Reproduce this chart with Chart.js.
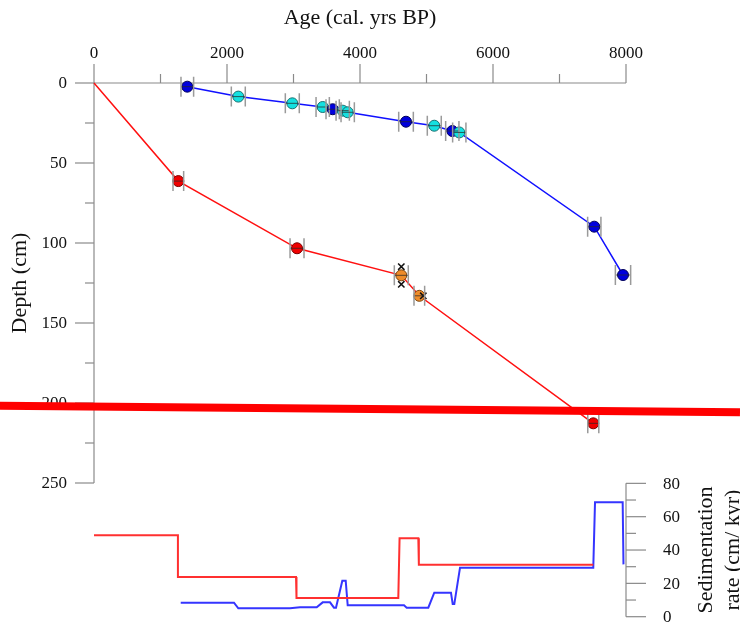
<!DOCTYPE html>
<html><head><meta charset="utf-8">
<script src="https://cdn.jsdelivr.net/npm/chart.js@4.4.0/dist/chart.umd.min.js"></script>
<style>html,body{margin:0;padding:0;background:#fff;}canvas{display:block;}</style>
</head><body>
<canvas id="c" width="740" height="629"></canvas>
<script>
// ---------- DATA ----------
// Core 1 (blue / cyan dated levels)
const blueAges   = [1403, 2170, 2982, 3439, 3589, 3740, 3815, 4692, 5117, 5388, 5493, 7523, 7955];
const blueDepths = [2.3, 8.5, 12.7, 15.0, 16.4, 17.3, 18.3, 24.2, 26.7, 30.0, 30.9, 89.8, 120.0];
const blueKinds  = ['dark','cyan','cyan','cyan','dark','cyan','cyan','dark','cyan','dark','cyan','dark','dark'];
const blueErrs   = [95, 105, 105, 100, 100, 100, 100, 110, 105, 100, 100, 100, 115];
// Core 2 (red / orange dated levels), first entry is the surface
const redAges   = [0, 1268, 3053, 4621, 4892, 7508];
const redDepths = [0, 61.3, 103.3, 120.2, 133.0, 212.7];
const redKinds  = ['none','red','red','orange','orange','red'];
const redErrs   = [0, 80, 105, 105, 80, 83];
// rejected dates (crosses)
const rejAges   = [4621, 4621, 4952];
const rejDepths = [114.8, 125.8, 133.0];
// Sedimentation rate (cm/kyr)
const redRateAges  = [0, 1262, 1262, 3038, 3045, 4576, 4595, 4877, 4885, 7508];
const redRates     = [48.8, 48.8, 23.8, 23.8, 11.2, 11.2, 47.0, 47.0, 31.2, 31.2];
const blueRateAges = [1304, 2105, 2170, 2947, 3098, 3349, 3439, 3549, 3609, 3639, 3734, 3785, 3815, 4662, 4702, 5027, 5117, 5368, 5394, 5418, 5504, 7508, 7534, 7950, 7962];
const blueRates    = [8.4, 8.4, 5.0, 5.0, 5.6, 5.6, 8.6, 8.6, 5.4, 5.4, 21.6, 21.6, 6.8, 6.8, 5.4, 5.4, 14.4, 14.4, 7.6, 7.6, 29.4, 29.4, 68.6, 68.6, 31.4];
// Thick red marker line (age, depth at both ends)
const markAges   = [-1414, 9714];
const markDepths = [201.75, 205.8];
// Axis ticks
const ageMajorTicks   = [0, 2000, 4000, 6000, 8000];
const ageMinorTicks   = [1000, 3000, 5000, 7000];
const depthMajorTicks = [0, 50, 100, 150, 200, 250];
const depthMinorTicks = [25, 75, 125, 175, 225];
const rateMajorTicks  = [0, 20, 40, 60, 80];
const rateMinorTicks  = [10, 30, 50, 70];
const ageTitle = 'Age (cal. yrs BP)';
const depthTitle = 'Depth (cm)';
const rateTitle = ['Sedimentation', 'rate (cm/ kyr)'];

// ---------- CHART ----------
const FONT = '"Liberation Serif", "Times New Roman", serif';
const AXIS = '#8a8a8a';
const kindFill = {dark:'#0000dd', cyan:'#14e0e0', red:'#f00000', orange:'#ee8c2a'};
const kindEdge = {dark:'#00005a', cyan:'#1a6f6f', red:'#7a0000', orange:'#7a4510'};

function pts(xs, ys){ return xs.map((v,i)=>({x:v, y:ys[i]})); }
function markerSet(xs, ys, kinds){
  const idx = kinds.map((k,i)=>i).filter(i=>kinds[i]!=='none');
  return {
    type:'scatter', data: idx.map(i=>({x:xs[i], y:ys[i]})), yAxisID:'y',
    pointRadius:5.5, pointBorderWidth:1,
    pointBackgroundColor: idx.map(i=>kindFill[kinds[i]]),
    pointBorderColor: idx.map(i=>kindEdge[kinds[i]]),
    showLine:false, order:1, clip:false
  };
}

const axesPlugin = {
  id:'axesDraw',
  beforeDatasetsDraw(chart){
    const {ctx, scales:{x, y, y2}} = chart;
    ctx.save();
    ctx.strokeStyle = AXIS; ctx.lineWidth = 1.2;
    const ln = (a,b,c,d)=>{ctx.beginPath();ctx.moveTo(a,b);ctx.lineTo(c,d);ctx.stroke();};
    const y0 = y.getPixelForValue(0);
    const xl = x.getPixelForValue(0);
    ln(x.getPixelForValue(0), y0, x.getPixelForValue(8000), y0);
    ctx.fillStyle = '#111';
    ctx.font = '17px ' + FONT;
    ctx.textAlign = 'center'; ctx.textBaseline = 'alphabetic';
    ageMajorTicks.forEach(v=>{const p=x.getPixelForValue(v); ln(p,y0,p,y0-19); ctx.fillText(String(v), p, y0-25);});
    ageMinorTicks.forEach(v=>{const p=x.getPixelForValue(v); ln(p,y0,p,y0-9);});
    // depth axis
    ln(xl, y.getPixelForValue(0), xl, y.getPixelForValue(250));
    ctx.textAlign = 'right'; ctx.textBaseline = 'middle';
    depthMajorTicks.forEach(v=>{const p=y.getPixelForValue(v); ln(xl-19,p,xl,p); ctx.fillText(String(v), xl-27, p+1);});
    depthMinorTicks.forEach(v=>{const p=y.getPixelForValue(v); ln(xl-9,p,xl,p);});
    // rate axis
    const xr = x.getPixelForValue(8000);
    ln(xr, y2.getPixelForValue(0), xr, y2.getPixelForValue(80));
    ctx.textAlign = 'left';
    rateMajorTicks.forEach(v=>{const p=y2.getPixelForValue(v); ln(xr,p,xr+20,p); ctx.fillText(String(v), xr+37, p+1);});
    rateMinorTicks.forEach(v=>{const p=y2.getPixelForValue(v); ln(xr,p,xr+10,p);});
    // titles
    ctx.font = '22px ' + FONT; ctx.fillStyle = '#111';
    ctx.textAlign = 'center'; ctx.textBaseline = 'middle';
    ctx.fillText(ageTitle, (x.getPixelForValue(0)+x.getPixelForValue(8000))/2, 18);
    ctx.save(); ctx.translate(20, (y.getPixelForValue(0)+y.getPixelForValue(250))/2); ctx.rotate(-Math.PI/2);
    ctx.fillText(depthTitle, 0, 0); ctx.restore();
    const ym = (y2.getPixelForValue(0)+y2.getPixelForValue(80))/2;
    ctx.save(); ctx.translate(706, ym); ctx.rotate(-Math.PI/2); ctx.fillText(rateTitle[0], 0, 0); ctx.restore();
    ctx.save(); ctx.translate(733, ym); ctx.rotate(-Math.PI/2); ctx.fillText(rateTitle[1], 0, 0); ctx.restore();
    ctx.restore();
  },
  afterDatasetsDraw(chart){
    const {ctx, scales:{x, y}} = chart;
    ctx.save();
    const draw = (ages, depths, errs)=>{
      ages.forEach((a,i)=>{
        if(!errs[i]) return;
        const l = x.getPixelForValue(a-errs[i]), r = x.getPixelForValue(a+errs[i]), py = y.getPixelForValue(depths[i]);
        ctx.strokeStyle = 'rgba(40,40,40,0.75)'; ctx.lineWidth = 1;
        ctx.beginPath(); ctx.moveTo(l,py); ctx.lineTo(r,py); ctx.stroke();
        ctx.strokeStyle = '#9a9a9a'; ctx.lineWidth = 1.5;
        ctx.beginPath(); ctx.moveTo(l,py-10); ctx.lineTo(l,py+10); ctx.moveTo(r,py-10); ctx.lineTo(r,py+10); ctx.stroke();
      });
    };
    draw(blueAges, blueDepths, blueErrs);
    draw(redAges, redDepths, redErrs);
    ctx.restore();
  },
  afterDraw(chart){
    const {ctx, scales:{x, y}} = chart;
    ctx.save();
    ctx.strokeStyle = '#ff0000'; ctx.lineWidth = 8;
    ctx.beginPath();
    ctx.moveTo(x.getPixelForValue(markAges[0]), y.getPixelForValue(markDepths[0]));
    ctx.lineTo(x.getPixelForValue(markAges[1]), y.getPixelForValue(markDepths[1]));
    ctx.stroke();
    ctx.restore();
  }
};

new Chart(document.getElementById('c'), {
  type:'scatter',
  data:{datasets:[
    markerSet(blueAges, blueDepths, blueKinds),
    markerSet(redAges, redDepths, redKinds),
    {type:'scatter', data:pts(rejAges, rejDepths), yAxisID:'y', pointStyle:'crossRot', pointRadius:4.5,
     borderColor:'#111', pointBorderColor:'#111', pointBorderWidth:1.5, showLine:false, order:0, clip:false},
    {type:'scatter', data:pts(blueAges, blueDepths), yAxisID:'y', showLine:true, borderColor:'#1010ff', borderWidth:1.5, pointRadius:0, order:5, clip:false},
    {type:'scatter', data:pts(redAges, redDepths), yAxisID:'y', showLine:true, borderColor:'#ff1010', borderWidth:1.5, pointRadius:0, order:5, clip:false},
    {type:'scatter', data:pts(redRateAges, redRates), yAxisID:'y2', showLine:true, borderColor:'#ff3030', borderWidth:2, pointRadius:0, order:6, clip:false},
    {type:'scatter', data:pts(blueRateAges, blueRates), yAxisID:'y2', showLine:true, borderColor:'#3535ff', borderWidth:2, pointRadius:0, order:6, clip:false}
  ]},
  options:{
    responsive:false, animation:false, events:[],
    layout:{padding:{left:94, right:114, top:83, bottom:12.3}},
    plugins:{legend:{display:false}, tooltip:{enabled:false}},
    scales:{
      x:{type:'linear', min:0, max:8000, display:false},
      y:{type:'linear', min:0, max:333.56, reverse:true, display:false},
      y2:{type:'linear', min:0, max:320.2, display:false}
    }
  },
  plugins:[axesPlugin]
});
</script>
</body></html>
